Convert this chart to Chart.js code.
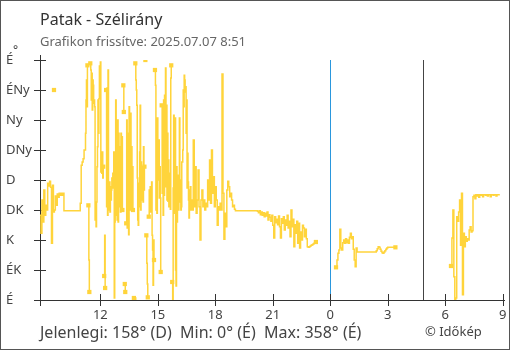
<!DOCTYPE html>
<html><head><meta charset="utf-8">
<script src="https://cdn.jsdelivr.net/npm/chart.js@4/dist/chart.umd.min.js"></script>
<style>html,body{margin:0;padding:0;background:#fff}</style>
</head><body>
<canvas id="c" width="510" height="350"></canvas>
<script>
const chartTitle = 'Patak - Szélirány';
const chartSubtitle = 'Grafikon frissítve: 2025.07.07 8:51';
const footerText = 'Jelenlegi: 158° (D)  Min: 0° (É)  Max: 358° (É)';
const creditText = '© Időkép';
const unitText = '°';

const dirTicks = [0, 45, 90, 135, 180, 225, 270, 315, 360];
const dirLabels = ['É', 'ÉK', 'K', 'DK', 'D', 'DNy', 'Ny', 'ÉNy', 'É'];
const hourTicks = [12, 15, 18, 21, 24, 27, 30, 33]; // hours since 2025-07-06 00:00
const xMin = 8.85;      // 07-06 08:51
const xMax = 33.12;     // 07-07 ~09:07
const midnightHour = 24;
const markHour = 28.85; // 07-07 04:51

// wind direction (degrees); null = gap in the line
// morning: from 07-06 08:51, every 3 minutes
const startA = 8.85, stepA = 3;
const dirsA = [
  127,100,150,117,165,127,142,135,175,171,178,169,85,172,132,135,156,142,159,154,160,157,160,157,160,
  134,134,134,134,134,134,134,134,134,134,134,134,134,134,134,134,134,
  145,202,207,212,225
];
// gusty period: from 07-06 11:12, every 1.5 minutes
const startB = 11.2, stepB = 1.5;
const dirsB = [
  225,250,300,330,290,352,null,142,60,12,null,355,345,300,340,285,330,322,295,300,290,
  120,140,110,147,200,230,300,250,302,351,340,357,192,210,190,222,183,200,null,36,97,
  18,null,315,140,318,127,345,157,135,177,132,170,150,165,183,168,190,175,222,3,117,
  200,300,127,240,120,270,117,250,140,190,230,132,250,150,245,135,null,322,282,null,24,
  12,null,115,270,108,250,240,98,290,135,150,280,135,230,160,200,135,null,3,1,null,
  355,330,315,292,183,120,112,175,140,222,292,135,207,150,160,200,147,230,165,200,null,
  360,null,97,55,24,4,null,125,165,140,170,132,160,177,97,75,22,90,60,null,345,
  322,135,260,130,273,200,180,240,153,200,153,42,null,292,160,225,127,300,157,307,200,
  348,170,292,150,250,148,210,140,190,160,136,333,352,null,27,0,168,277,130,200,273,
  45,21,200,117,187,183,135,147,273,153,180,135,140,207,207,225,315,290,337,330,312,
  320,250,300,168,220,177,150,123,165,140,170,135
];
// evening to morning: from 07-06 16:45, every 3 minutes
const startC = 16.75, stepC = 3;
const dirsC = [
  150,135,240,140,200,130,150,195,140,90,150,165,140,150,135,145,140,180,150,210,145,225,160,185,140,170,150,112,140,135,
  145,135,339,160,91,130,110,165,178,170,155,160,150,140,142,136,
  134,134,134,134,134,134,134,134,134,134,134,134,134,134,134,134,134,134,134,134,134,134,134,
  133,131,134,128,132,127,131,125,130,126,132,120,128,124,118,127,112,93,125,116,121,113,126,110,93,122,115,125,105,120,
  112,127,108,118,95,135,110,121,80,113,100,118,85,115,78,102,90,112,108,95,106,92,80,79,80,81,82,83,84,85,86,87,
  null,null,null,null,null,null,null,null,null,null,null,null,null,null,null,null,null,null,null,null,
  49,60,70,75,106,78,75,86,90,85,92,86,90,85,94,100,92,95,76,60,50,78,
  72,72,72,72,72,72,72,72,72,72,72,72,72,72,72,72,72,72,72,72,
  74,77,80,79,76,73,71,70,72,74,76,78,79,79,79,79,79,79,79,79,79,
  null,null,null,null,null,null,null,null,null,null,null,null,null,null,null,null,null,null,null,null,
  null,null,null,null,null,null,null,null,null,null,null,null,null,null,null,null,null,null,null,null,
  null,null,null,null,null,null,null,null,null,null,null,null,null,null,null,null,null,
  51,93,135,35,0,3,125,118,132,150,82,160,8,100,80,95,88,92,90,105,110,102,104,155,
  157,152,158,156,158,154,158,157,158,155,158,158,157,158,156,158,158,155,158,158,157,158,158,156,158,158,158,158
];
// a lone reading that is not joined to the line (07-06 ~09:35)
const strayHours = [9.58];
const strayDirs = [315];

const LINE = '#FFD43B';
const FONT = '"Noto Sans", "Open Sans", sans-serif';

const toPoints = (arr, start, step) => arr.map((v, i) => ({ x: start + i * step / 60, y: v }));
const points = [
  ...toPoints(dirsA, startA, stepA),
  ...toPoints(dirsB, startB, stepB),
  ...toPoints(dirsC, startC, stepC)
];
const strayPoints = strayHours.map((h, i) => ({ x: h, y: strayDirs[i] }));
const isEdge = i => {
  if (points[i].y == null) return false;
  const p = i > 0 && points[i - 1].y == null;
  const n = i < points.length - 1 && points[i + 1].y == null;
  return p || n;
};

const decor = {
  id: 'decor',
  beforeDraw(chart) {
    const c = chart.ctx;
    c.save();
    c.fillStyle = '#fff';
    c.fillRect(0, 0, chart.width, chart.height);
    c.restore();
  },
  beforeDatasetsDraw(chart) {
    const c = chart.ctx, a = chart.chartArea, x = chart.scales.x, y = chart.scales.y;
    c.save();
    c.lineWidth = 1;
    const xm = Math.round(x.getPixelForValue(midnightHour)) + 0.5;
    c.strokeStyle = '#2a97dd';
    c.beginPath(); c.moveTo(xm, a.top); c.lineTo(xm, a.bottom); c.stroke();
    const xs = Math.round(x.getPixelForValue(markHour)) + 0.5;
    c.strokeStyle = '#444';
    c.beginPath(); c.moveTo(xs, a.top); c.lineTo(xs, a.bottom); c.stroke();
    c.strokeStyle = '#333';
    const ax = Math.round(a.left) + 0.5, ay = Math.round(a.bottom) + 0.5;
    c.beginPath(); c.moveTo(ax, a.top - 5); c.lineTo(ax, a.bottom + 6); c.stroke();
    c.beginPath(); c.moveTo(a.left - 6, ay); c.lineTo(a.right, ay); c.stroke();
    dirTicks.forEach(v => {
      const py = Math.round(y.getPixelForValue(v)) + 0.5;
      c.beginPath(); c.moveTo(a.left - 6, py); c.lineTo(a.left + 6, py); c.stroke();
    });
    hourTicks.forEach(h => {
      const px = Math.round(x.getPixelForValue(h)) + 0.5;
      c.beginPath(); c.moveTo(px, a.bottom - 6); c.lineTo(px, a.bottom + 6); c.stroke();
    });
    c.restore();
  },
  afterDraw(chart) {
    const c = chart.ctx;
    c.save();
    c.textBaseline = 'alphabetic';
    c.textAlign = 'left';
    c.fillStyle = '#333';
    c.font = '16px ' + FONT;
    c.fillText(chartTitle, 40, 25);
    c.fillStyle = '#666';
    c.font = '13px ' + FONT;
    c.fillText(chartSubtitle, 40, 46);
    c.fillStyle = '#444';
    c.font = '12px ' + FONT;
    c.fillText(unitText, 13, 54);
    c.font = '16px ' + FONT;
    c.fillText(footerText, 40, 338);
    c.font = '13px ' + FONT;
    c.fillText(creditText, 425, 336);
    c.strokeStyle = '#555';
    c.lineWidth = 1;
    c.strokeRect(0.5, 0.5, chart.width - 1, chart.height - 1);
    c.restore();
  }
};

new Chart(document.getElementById('c'), {
  type: 'line',
  data: {
    datasets: [{
      data: points,
      borderColor: LINE,
      backgroundColor: LINE,
      borderWidth: 1.5,
      stepped: true,
      spanGaps: false,
      fill: false,
      pointStyle: 'rect',
      pointRadius: ctx => isEdge(ctx.dataIndex) ? 3 : 0,
      pointBorderWidth: 0,
      pointBackgroundColor: LINE,
      pointHoverRadius: 0
    }, {
      data: strayPoints,
      showLine: false,
      borderColor: LINE,
      backgroundColor: LINE,
      pointStyle: 'rect',
      pointRadius: 3,
      pointBorderWidth: 0,
      pointBackgroundColor: LINE,
      pointHoverRadius: 0
    }]
  },
  options: {
    responsive: false,
    animation: false,
    devicePixelRatio: 1,
    events: [],
    layout: { padding: { left: 6, top: 60, right: 5, bottom: 0 } },
    plugins: { legend: { display: false }, tooltip: { enabled: false }, title: { display: false } },
    scales: {
      x: {
        type: 'linear', min: xMin, max: xMax,
        afterBuildTicks: s => { s.ticks = hourTicks.map(v => ({ value: v })); },
        afterFit: s => { s.height = 50; s.paddingLeft = 0; s.paddingRight = 0; },
        grid: { display: false, drawTicks: false },
        border: { display: false },
        ticks: {
          autoSkip: false, maxRotation: 0, padding: 7, color: '#444',
          font: { family: FONT, size: 13 },
          callback: v => String(v % 24)
        }
      },
      y: {
        type: 'linear', min: 0, max: 360,
        afterBuildTicks: s => { s.ticks = dirTicks.map(v => ({ value: v })); },
        afterFit: s => { s.width = 34; },
        grid: { display: false, drawTicks: false },
        border: { display: false },
        ticks: {
          autoSkip: false, crossAlign: 'far', color: '#444',
          font: { family: FONT, size: 13 },
          callback: v => dirLabels[dirTicks.indexOf(v)]
        }
      }
    }
  },
  plugins: [decor]
});
</script>
</body></html>
